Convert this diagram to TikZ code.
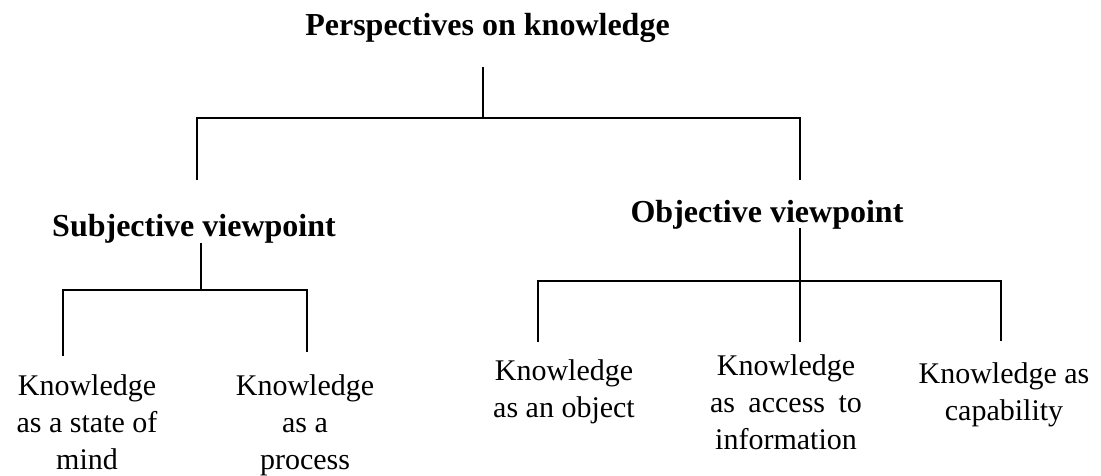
\documentclass[tikz,border=0pt]{standalone}
\usepackage{fontspec}
\setmainfont{Liberation Serif}
\begin{document}
\begin{tikzpicture}[x=1pt,y=1pt,
  head/.style={anchor=base,inner sep=0pt,font=\bfseries\fontsize{32}{38}\selectfont},
  leaf/.style={anchor=base,inner sep=0pt,font=\fontsize{30}{37}\selectfont},
  link/.style={line width=1.4pt,line cap=butt}]
\useasboundingbox (0,0) rectangle (1101,-475);

% headings
\node[head] (root) at (487.5,-35) {Perspectives on knowledge};
\node[head] (subj) at (194,-236) {Subjective viewpoint};
\node[head] (obj)  at (767,-222) {Objective viewpoint};

% leaves
\node[leaf] (mind)  at (87,-395)  {\begin{tabular}[t]{@{}c@{}}Knowledge\\as a state of\\mind\end{tabular}};
\node[leaf] (proc)  at (305,-395) {\begin{tabular}[t]{@{}c@{}}Knowledge\\as a\\process\end{tabular}};
\node[leaf] (objc)  at (564,-380) {\begin{tabular}[t]{@{}c@{}}Knowledge\\as an object\end{tabular}};
\node[leaf] (info)  at (786,-375) {\begin{tabular}[t]{@{}c@{}}Knowledge\\as\hspace{0.45em}access\hspace{0.45em}to\\information\end{tabular}};
\node[leaf] (capa)  at (1004,-383) {\begin{tabular}[t]{@{}c@{}}Knowledge as\\capability\end{tabular}};

% branch points
\coordinate (rootTop)  at (483,-67);
\coordinate (rootBus)  at (483,-118);
\coordinate (subjEnd)  at (197,-180);
\coordinate (objEnd)   at (800,-180);

\coordinate (subjTop)  at (201,-243);
\coordinate (subjBus)  at (201,-290);
\coordinate (mindEnd)  at (63,-356);
\coordinate (procEnd)  at (307,-352);

\coordinate (objTop)   at (800,-228);
\coordinate (objBus)   at (800,-281);
\coordinate (objcEnd)  at (538,-342);
\coordinate (infoEnd)  at (800,-342);
\coordinate (capaEnd)  at (1001,-341);

% top level
\draw[link] (rootTop) -- (rootBus);
\draw[link] (subjEnd) |- (rootBus) -| (objEnd);

% subjective branch
\draw[link] (subjTop) -- (subjBus);
\draw[link] (mindEnd) |- (subjBus) -| (procEnd);

% objective branch
\draw[link] (objTop) -- (infoEnd);
\draw[link] (objcEnd) |- (objBus) -| (capaEnd);
\end{tikzpicture}
\end{document}
